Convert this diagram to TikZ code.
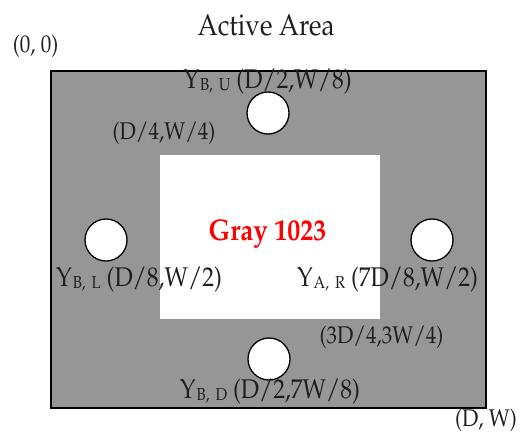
\documentclass[tikz,border=0pt]{standalone}
\usepackage[T1]{fontenc}
\usepackage{mathpazo}
\usepackage{graphicx}
\definecolor{areagray}{RGB}{150,150,150}
\definecolor{labeltext}{RGB}{30,30,30}
\tikzset{
  hole/.style={circle, draw=black, line width=1.3pt, fill=white, minimum size=42pt, inner sep=0pt},
  lbl/.style={text=labeltext, inner sep=0pt, font=\fontsize{21}{25}\selectfont},
  ylbl/.style={text=labeltext, inner sep=0pt, font=\fontsize{23.5}{27}\selectfont},
}
\newcommand{\tall}[1]{\scalebox{1}[1.15]{#1}}
\newcommand{\ysub}[2]{Y\kern1pt\raisebox{-1pt}{\fontsize{15}{17}\selectfont #1,\hspace{6pt}#2}}
\begin{document}
\begin{tikzpicture}[x=1pt,y=-1pt]
\useasboundingbox (0,0) rectangle (524,434);
\node[draw=black, line width=1.5pt, fill=areagray, minimum width=435pt, minimum height=337pt, inner sep=0pt, anchor=north west] (area) at (50,70) {};
\node[fill=white, minimum width=220pt, minimum height=164pt, inner sep=0pt, anchor=north west] (inner) at (160,155) {};
\node[hole] (cu) at (268,113) {};
\node[hole] (cl) at (106,240) {};
\node[hole] (cr) at (432,240) {};
\node[hole] (cd) at (269,359) {};
\node[lbl, font=\fontsize{26}{30}\selectfont] (title) at (266,25) {\tall{Active Area}};
\node[lbl] (origin) at (35.5,46) {\tall{(0, 0)}};
\node[ylbl] (lu) at (267.5,82) {\tall{\ysub{B}{U} (D/2,W/8)}};
\node[lbl] (q1) at (164,133) {\tall{(D/4,W/4)}};
\node[text=red, inner sep=0pt, font=\fontsize{26}{30}\selectfont\bfseries] (gray) at (267.5,234) {\tall{Gray 1023}};
\node[ylbl] (ll) at (139,280) {\tall{\ysub{B}{L} (D/8,W/2)}};
\node[ylbl] (lr) at (387.5,280) {\tall{\ysub{A}{R} (7D/8,W/2)}};
\node[lbl] (q3) at (381.5,337) {\tall{(3D/4,3W/4)}};
\node[ylbl] (ld) at (270,392) {\tall{\ysub{B}{D} (D/2,7W/8)}};
\node[lbl] (end) at (486,420) {\tall{(D, W)}};
\end{tikzpicture}
\end{document}
